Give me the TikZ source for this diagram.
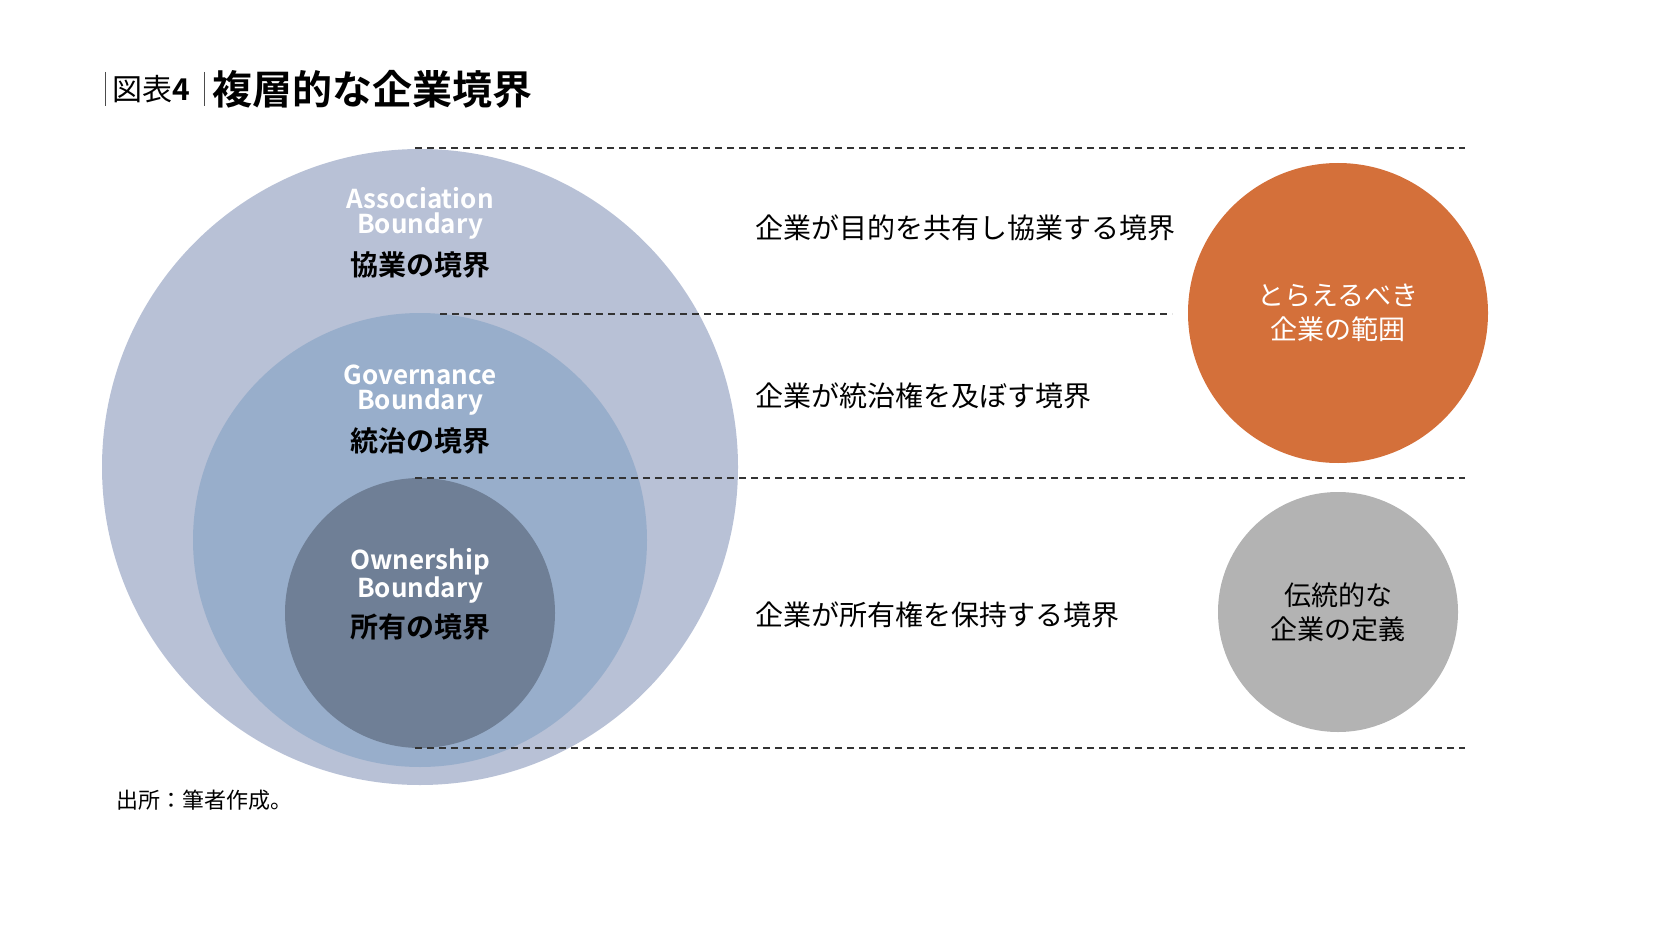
\documentclass[tikz,border=0pt]{standalone}
\usepackage{fontspec}
\setmainfont{Noto Sans CJK JP}[BoldFont={Noto Sans CJK JP Bold}]
\begin{document}
\begin{tikzpicture}[x=1pt,y=-1pt,
  dline/.style={draw=black!80,line width=1.2pt,dash pattern=on 7pt off 5pt},
  en/.style={text=white,font=\bfseries\fontsize{26}{25}\selectfont,align=center},
  jp/.style={font=\bfseries\fontsize{28}{30}\selectfont},
  desc/.style={anchor=west,font=\fontsize{28}{30}\selectfont},
  inc/.style={font=\fontsize{27}{34}\selectfont,align=center}]
\definecolor{cA}{HTML}{B8C1D6}\definecolor{cG}{HTML}{98AECB}\definecolor{cO}{HTML}{6F7F96}
\definecolor{cR}{HTML}{D4703A}\definecolor{cY}{HTML}{B3B3B3}
\fill[cA] (420,467) circle (318);
\fill[cG] (420,540) circle (227);
\fill[cO] (420,613) circle (135);
\coordinate (d1a) at (415,148); \coordinate (d1b) at (1465,148);
\coordinate (d2a) at (440,314); \coordinate (d2b) at (1172,314);
\coordinate (d3a) at (415,478); \coordinate (d3b) at (1465,478);
\coordinate (d4a) at (415,748); \coordinate (d4b) at (1465,748);
\draw[dline] (d1a)--(d1b); \draw[dline] (d2a)--(d2b);
\draw[dline] (d3a)--(d3b); \draw[dline] (d4a)--(d4b);
\node[en] (ae) at (420,213) {Association\\Boundary};
\node[jp] (aj) at (420,265) {協業の境界};
\node[en] (ge) at (420,390) {Governance\\Boundary};
\node[jp] (gj) at (420,441) {統治の境界};
\node[en] (oe) at (420,576) {Ownership\\Boundary};
\node[jp] (oj) at (420,627) {所有の境界};
\node[desc] (t1) at (752,228) {企業が目的を共有し協業する境界};
\node[desc] (t2) at (752,396) {企業が統治権を及ぼす境界};
\node[desc] (t3) at (752,615) {企業が所有権を保持する境界};
\node[circle,fill=cR,minimum size=300pt,inc,text=white] (r) at (1338,313) {とらえるべき\\企業の範囲};
\node[circle,fill=cY,minimum size=240pt,inc] (g) at (1338,612) {伝統的な\\企業の定義};
\coordinate (b1a) at (105,72); \coordinate (b1b) at (105,106);
\coordinate (b2a) at (204,72); \coordinate (b2b) at (204,106);
\draw[line width=1pt,black!70] (b1a)--(b1b); \draw[line width=1pt,black!70] (b2a)--(b2b);
\node[anchor=west,font=\fontsize{30}{32}\selectfont,inner sep=0] (tl) at (112,89) {図表\textbf{4}};
\node[anchor=west,font=\bfseries\fontsize{40}{42}\selectfont,inner sep=0] (tt) at (212,89) {複層的な企業境界};
\node[anchor=west,font=\fontsize{22}{24}\selectfont,inner sep=0] (src) at (116,800) {出所：筆者作成。};
\pgfresetboundingbox
\useasboundingbox (0,0) rectangle (1654,928);
\end{tikzpicture}
\end{document}
